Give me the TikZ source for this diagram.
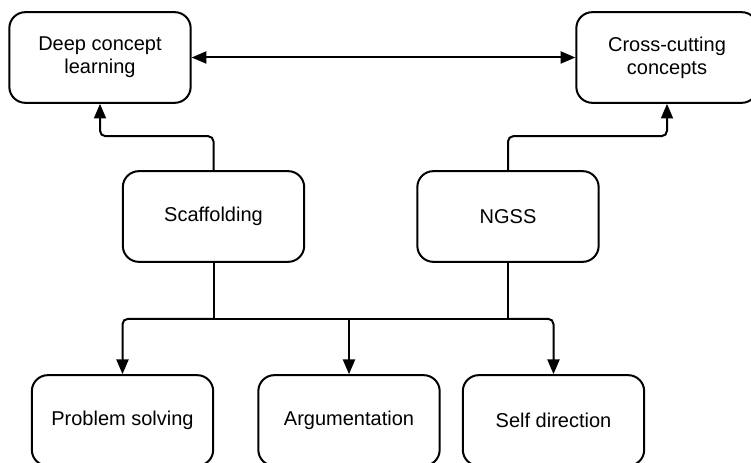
\documentclass[tikz,border=0pt]{standalone}
\usepackage{fontspec}
\setmainfont{Liberation Sans}
\usetikzlibrary{arrows.meta,positioning,calc}

\begin{document}
\begin{tikzpicture}[
      x=0.75pt,
      y=-0.75pt,
      font=\fontsize{15}{17}\selectfont,
      conceptbox/.style={
        draw, line width=1.5pt, rounded corners=12pt, align=center,
        minimum width=136pt, minimum height=68pt, inner sep=3pt
      },
      link/.style={line width=1.5pt, rounded corners=4pt},
      arrow/.style={link, -{Triangle[length=11pt, width=9pt]}}
    ]
    \useasboundingbox (0,0) rectangle (751,463);

    \node[conceptbox] (deep) at (100,57.5) {Deep concept\\learning};
    \node[conceptbox] (cross) at (667,57.5) {Cross-cutting\\concepts};

    \node[conceptbox] (scaf) at (213.5,216.5) {Scaffolding};
    \node[conceptbox] (ngss) at (508,216.5) {NGSS};

    \node[conceptbox] (prob) at (122.5,420.5) {Problem solving};
    \node[conceptbox] (argu) at (349,420.5) {Argumentation};
    \node[conceptbox] (self) at (553.5,420.5) {Self direction};

    % top row
    \draw[arrow, {Triangle[length=11pt, width=9pt]}-{Triangle[length=11pt, width=9pt]}]
      (deep) -- (cross);
    \draw[arrow] (scaf.north) -- ++(0,-34) -| (deep.south);
    \draw[arrow] (ngss.north) -- ++(0,-34) -| (cross.south);

    % bus to the skills
    \coordinate (j1) at ($(scaf.south)+(0,56)$);
    \draw[line width=1.5pt] (scaf.south) -- (j1) -- (ngss.south |- j1) -- (ngss.south);
    \draw[arrow] (j1) -| (prob.north);
    \draw[arrow] (argu.north |- j1) -- (argu.north);
    \draw[arrow] (ngss.south |- j1) -| (self.north);
  \end{tikzpicture}
\end{document}
